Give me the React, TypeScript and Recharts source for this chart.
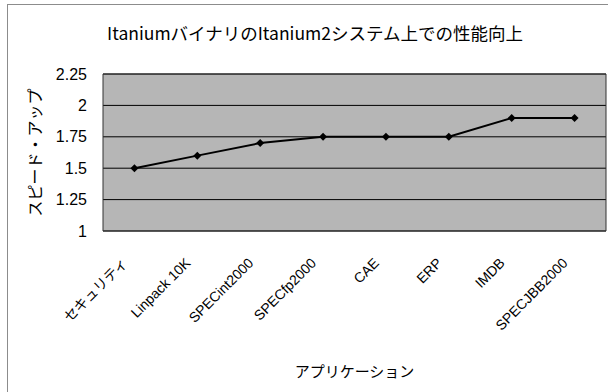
import { LineChart, Line, XAxis, YAxis, CartesianGrid, ReferenceArea } from 'recharts'

const apps = ['セキュリティ', 'Linpack 10K', 'SPECint2000', 'SPECfp2000', 'CAE', 'ERP', 'IMDB', 'SPECJBB2000']
const speedup = [1.5, 1.6, 1.7, 1.75, 1.75, 1.75, 1.9, 1.9]
const yTicks = [1, 1.25, 1.5, 1.75, 2, 2.25]

const data = apps.map((name, i) => ({ name, speedup: speedup[i] }))

const FONT = '"Liberation Sans", Arial, sans-serif'
const JP = '"Noto Sans CJK JP", sans-serif'
const MIXED = '"Liberation Sans", "Noto Sans CJK JP", sans-serif'

function Diamond(props: any) {
  const { cx, cy } = props
  if (cx == null || cy == null) return null
  const r = 4
  return <path d={`M${cx},${cy - r}L${cx + r},${cy}L${cx},${cy + r}L${cx - r},${cy}Z`} fill="#000" />
}

function XTick(props: any) {
  const { x, y, payload } = props
  return (
    <g transform={`translate(${x - 6},${y + 25})`}>
      <text transform="rotate(-45)" textAnchor="end" fontSize={14} fontFamily={MIXED} fill="#000">
        {payload.value}
      </text>
    </g>
  )
}

function YLabel(props: any) {
  const { viewBox } = props
  const cx = 34
  const cy = viewBox.y + viewBox.height / 2
  return (
    <text transform={`rotate(-90,${cx},${cy})`} x={cx} y={cy} textAnchor="middle" dominantBaseline="central"
      fontSize={16} fontFamily={JP} fill="#000">
      スピード・アップ
    </text>
  )
}

export default function App() {
  return (
    <div style={{ position: 'absolute', left: 0, top: 0, width: 608, height: 392, background: '#fff', overflow: 'hidden' }}>
      <div style={{ position: 'absolute', left: 7, top: 4, right: -2, bottom: -2, borderLeft: '1px solid #8c8c8c', borderTop: '1px solid #8c8c8c' }} />
      <div style={{ position: 'absolute', left: 0, width: 630, top: 20, textAlign: 'center', fontFamily: JP, fontSize: 17.5, color: '#000' }}>
        ItaniumバイナリのItanium2システム上での性能向上
      </div>
      <LineChart width={608} height={392} data={data} margin={{ top: 74, right: 2, left: 0, bottom: 11 }}>
        <CartesianGrid vertical={false} fill="#b6b6b6" stroke="#000" strokeWidth={1} />
        <ReferenceArea y1={1} y2={2.25} fill="none" stroke="#333" strokeWidth={1} />
        <XAxis dataKey="name" scale="band" axisLine={false} tickLine={false} interval={0} height={150} tick={<XTick />}
          label={{ value: 'アプリケーション', position: 'insideBottom', offset: 4, fontSize: 15, fontFamily: JP, fill: '#000' }} />
        <YAxis domain={[1, 2.25]} ticks={yTicks} width={103} axisLine={false} tickLine={false} tickSize={0} tickMargin={16}
          tick={{ fontSize: 16, fontFamily: FONT, fill: '#000' }} label={<YLabel />} />
        <Line dataKey="speedup" stroke="#000" strokeWidth={2} dot={<Diamond />} isAnimationActive={false} />
      </LineChart>
    </div>
  )
}
